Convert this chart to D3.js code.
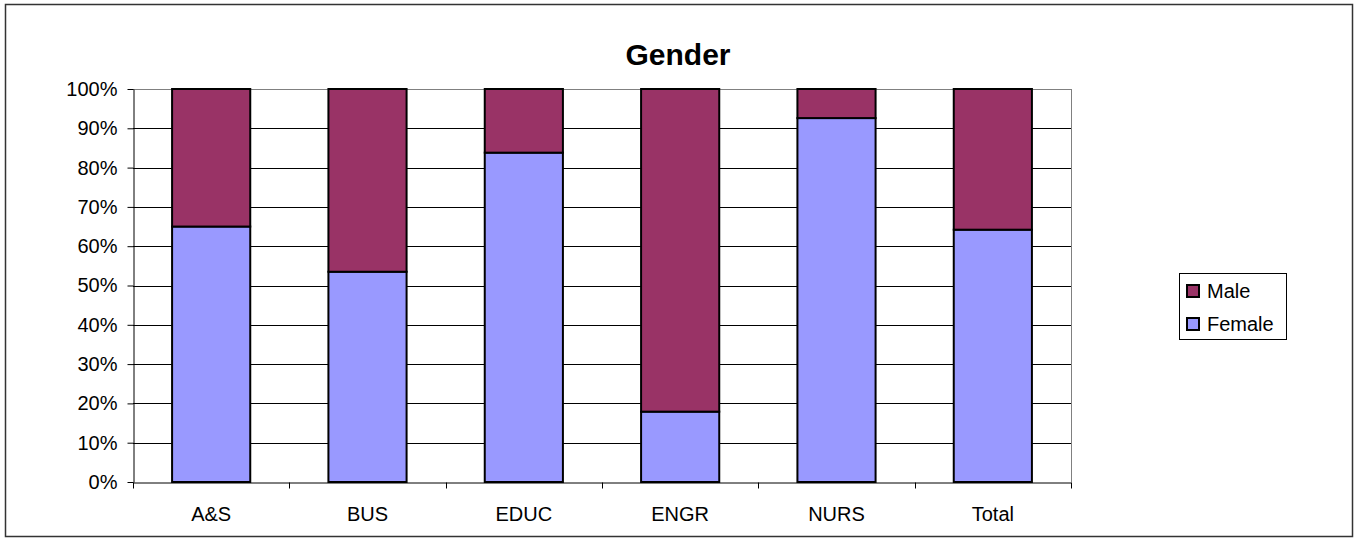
<!DOCTYPE html>
<html>
<head>
<meta charset="utf-8">
<script src="https://cdn.jsdelivr.net/npm/d3@7"></script>
<style>
  body { margin: 0; background: #fff; }
  svg { display: block; font-family: "Liberation Sans", Arial, sans-serif; }
</style>
</head>
<body>
<svg id="chart" width="1354" height="540"></svg>
<script>
var categories = ["A&S", "BUS", "EDUC", "ENGR", "NURS", "Total"];
var female = [0.65, 0.535, 0.838, 0.179, 0.926, 0.642];
var male = female.map(function (f) { return 1 - f; });
var yTicks = [0, 0.1, 0.2, 0.3, 0.4, 0.5, 0.6, 0.7, 0.8, 0.9, 1];

var colors = { Female: "#9999ff", Male: "#993366" };

var svg = d3.select("#chart");

// chart border
svg.append("rect")
  .attr("x", 5.5).attr("y", 4.5)
  .attr("width", 1347).attr("height", 532)
  .attr("fill", "#fff").attr("stroke", "#333").attr("stroke-width", 1.5);

var plot = { left: 133, right: 1071, top: 89, bottom: 482 };

var x = d3.scaleBand()
  .domain(categories)
  .range([plot.left, plot.right])
  .paddingInner(0.5).paddingOuter(0.25);

var y = d3.scaleLinear().domain([0, 1]).range([plot.bottom, plot.top]);

// gridlines
svg.append("g")
  .selectAll("line")
  .data(yTicks.slice(1))
  .enter().append("line")
  .attr("x1", plot.left).attr("x2", plot.right)
  .attr("y1", function (d) { return Math.round(y(d)) + 0.5; })
  .attr("y2", function (d) { return Math.round(y(d)) + 0.5; })
  .attr("stroke", "#000").attr("stroke-width", 1);

// plot area border (right and top gray)
svg.append("line")
  .attr("x1", plot.right + 0.5).attr("x2", plot.right + 0.5)
  .attr("y1", plot.top).attr("y2", plot.bottom)
  .attr("stroke", "#808080");
svg.append("line")
  .attr("x1", plot.left).attr("x2", plot.right)
  .attr("y1", plot.top + 0.5).attr("y2", plot.top + 0.5)
  .attr("stroke", "#808080");

// stacked bars
var stackData = categories.map(function (c, i) {
  return { cat: c, Female: female[i], Male: male[i] };
});
var series = d3.stack().keys(["Female", "Male"])(stackData);

svg.append("g")
  .selectAll("g")
  .data(series)
  .enter().append("g")
  .attr("fill", function (d) { return colors[d.key]; })
  .selectAll("rect")
  .data(function (d) { return d; })
  .enter().append("rect")
  .attr("x", function (d) { return x(d.data.cat); })
  .attr("width", x.bandwidth())
  .attr("y", function (d) { return y(d[1]); })
  .attr("height", function (d) { return y(d[0]) - y(d[1]); })
  .attr("stroke", "#000").attr("stroke-width", 2);

// y axis
var yAxis = svg.append("g")
  .attr("transform", "translate(" + (plot.left + 0.5) + ",0)")
  .call(d3.axisLeft(y).tickValues(yTicks).tickFormat(d3.format(".0%")).tickSize(6).tickSizeOuter(0).tickPadding(10));
yAxis.attr("font-size", 20).attr("font-family", "Liberation Sans, Arial, sans-serif");
yAxis.selectAll("text").attr("fill", "#000");
yAxis.selectAll("line").attr("stroke", "#000");
yAxis.select(".domain").attr("stroke", "#000");

// x axis
var xAxis = svg.append("g")
  .attr("transform", "translate(0," + (plot.bottom + 0.5) + ")")
  .call(d3.axisBottom(x).tickSize(0).tickPadding(24));
xAxis.attr("font-size", 20).attr("font-family", "Liberation Sans, Arial, sans-serif");
xAxis.selectAll("text").attr("fill", "#000");
xAxis.select(".domain").attr("stroke", "#000");
// boundary tick marks between categories
var step = x.step();
var bounds = d3.range(categories.length + 1).map(function (i) { return plot.left + i * step; });
xAxis.selectAll(".sep")
  .data(bounds)
  .enter().append("line")
  .attr("class", "sep")
  .attr("x1", function (d) { return Math.round(d) + 0.5; })
  .attr("x2", function (d) { return Math.round(d) + 0.5; })
  .attr("y1", 0).attr("y2", 6)
  .attr("stroke", "#000");

// title
svg.append("text")
  .attr("x", 678).attr("y", 65)
  .attr("text-anchor", "middle")
  .attr("font-size", 30).attr("font-weight", "bold")
  .text("Gender");

// legend
var legend = svg.append("g");
legend.append("rect")
  .attr("x", 1179.5).attr("y", 273.5)
  .attr("width", 107).attr("height", 66)
  .attr("fill", "#fff").attr("stroke", "#000");
var legendKeys = ["Male", "Female"];
var li = legend.selectAll(".li")
  .data(legendKeys)
  .enter().append("g")
  .attr("transform", function (d, i) { return "translate(1187," + (285 + i * 33) + ")"; });
li.append("rect")
  .attr("width", 12).attr("height", 12)
  .attr("fill", function (d) { return colors[d]; })
  .attr("stroke", "#000").attr("stroke-width", 2);
li.append("text")
  .attr("x", 20).attr("y", 13)
  .attr("font-size", 20)
  .text(function (d) { return d; });
</script>
</body>
</html>
